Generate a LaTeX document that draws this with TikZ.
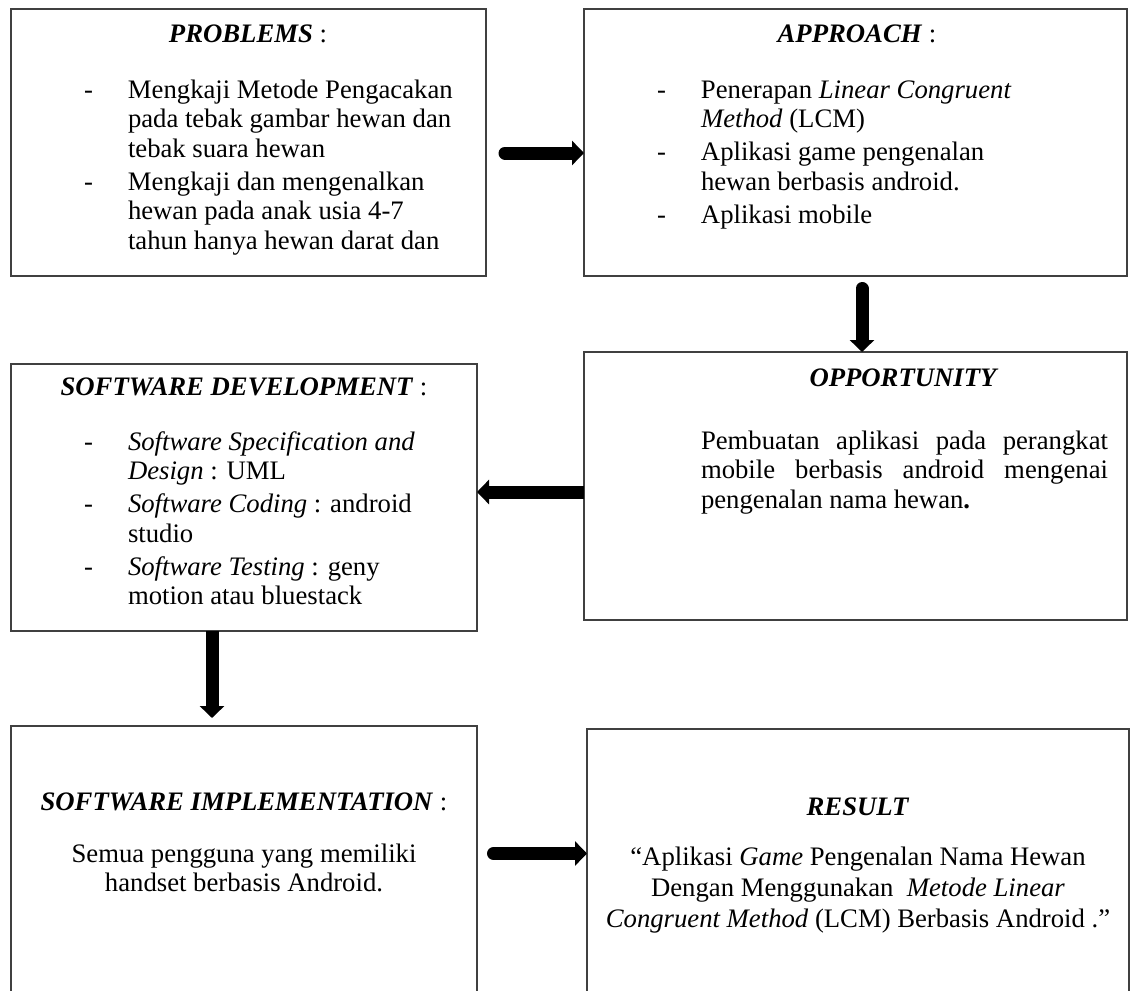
\documentclass[tikz,border=0pt]{standalone}
\usepackage{fontspec}
\setmainfont{Liberation Serif}
\usetikzlibrary{arrows.meta}
\newcommand\bodyfont{\fontsize{26.7pt}{29.5pt}\selectfont}
\newcommand\dashitem{\makebox[44pt][l]{-}}
\newcommand\contline{\hspace*{44pt}}
\begin{document}
\begin{tikzpicture}[x=1pt,y=-1pt,
  box/.style={draw=black!75, line width=1.6pt, inner sep=0pt, outer sep=0pt, anchor=north west},
  txt/.style={inner sep=0pt, outer sep=0pt, font=\bodyfont, text=black},
  head/.style={txt, anchor=base},
  bigarrow/.style={draw=black, line width=13pt, -{Triangle[width=24pt,length=12pt]}}]
\useasboundingbox (0,0) rectangle (1134,990);
% boxes
\node[box, minimum width=475pt, minimum height=267pt] (p) at (11,9) {};
\node[box, minimum width=543pt, minimum height=267pt] (a) at (584,9) {};
\node[box, minimum width=543pt, minimum height=268pt] (o) at (584,352) {};
\node[box, minimum width=466pt, minimum height=267pt] (sd) at (11,364) {};
\node[box, minimum width=466pt, minimum height=285pt] (si) at (11,726) {};
\node[box, minimum width=542pt, minimum height=285pt] (r) at (587,729) {};
% headers
\node[head] (hp) at (248,43) {\textbf{\textit{PROBLEMS}} :};
\node[head] (ha) at (857,43) {\textbf{\textit{APPROACH}} :};
\node[head] (ho) at (904,386) {\textbf{\textit{OPPORTUNITY}}};
\node[head] (hsd) at (244,395) {\textbf{\textit{SOFTWARE DEVELOPMENT}} :};
\node[head] (hsi) at (244,810) {\textbf{\textit{SOFTWARE IMPLEMENTATION}} :};
\node[head] (hr) at (858,815) {\textbf{\textit{RESULT}}};
% body texts
\node[txt, anchor=base west] (tp) at (84,98) {\parbox[t]{395pt}{%
\dashitem Mengkaji Metode Pengacakan\\
\contline pada tebak gambar hewan dan\\
\contline tebak suara hewan\\[3.5pt]
\dashitem Mengkaji dan mengenalkan\\
\contline hewan pada anak usia 4-7\\
\contline tahun hanya hewan darat dan}};
\node[txt, anchor=base west] (ta) at (657,98) {\parbox[t]{460pt}{%
\dashitem Penerapan \textit{Linear Congruent}\\
\contline\textit{Method} (LCM)\\[3.5pt]
\dashitem Aplikasi game pengenalan\\
\contline hewan berbasis android.\\[3.5pt]
\dashitem Aplikasi mobile}};
\node[txt, anchor=base west] (to) at (701,449) {\parbox[t]{407pt}{%
Pembuatan aplikasi pada perangkat\linebreak
mobile berbasis android mengenai\linebreak
pengenalan nama hewan\textbf{.}}};
\node[txt, anchor=base west] (tsd) at (84,450) {\parbox[t]{390pt}{%
\dashitem\textit{Software Specification and}\\
\contline\textit{Design} : UML\\[3.5pt]
\dashitem\textit{Software Coding} : android\\
\contline studio\\[3.5pt]
\dashitem\textit{Software Testing} : geny\\
\contline motion atau bluestack}};
\node[txt, anchor=base] (tsi) at (244,862) {\parbox[t]{460pt}{\centering
Semua pengguna yang memiliki\\
handset berbasis Android.}};
\node[txt, anchor=base] (tr) at (858,865) {\parbox[t]{535pt}{\centering
\fontsize{26.7pt}{31pt}\selectfont
“Aplikasi \textit{Game} Pengenalan Nama Hewan\\
Dengan Menggunakan\ \ \textit{Metode Linear}\\
\textit{Congruent Method} (LCM) Berbasis Android .”}};
% arrows
\draw[bigarrow, line cap=round, shorten <=19pt] ([yshift=-10.5pt]p.east) -- ([yshift=-10.5pt]a.west);
\draw[bigarrow, line cap=round, shorten <=12.5pt] ([xshift=6.5pt]a.south) -- ([xshift=6.5pt]a.south |- o.north);
\draw[bigarrow] ([yshift=-6pt]o.west) -- ([yshift=-6pt]o.west -| sd.east);
\draw[bigarrow, shorten >=8pt] ([xshift=-32pt]sd.south) -- ([xshift=-32pt]sd.south |- si.north);
\draw[bigarrow, line cap=round, shorten <=16.5pt] ([yshift=15pt]si.east) -- ([yshift=15pt]si.east -| r.west);
\end{tikzpicture}
\end{document}
